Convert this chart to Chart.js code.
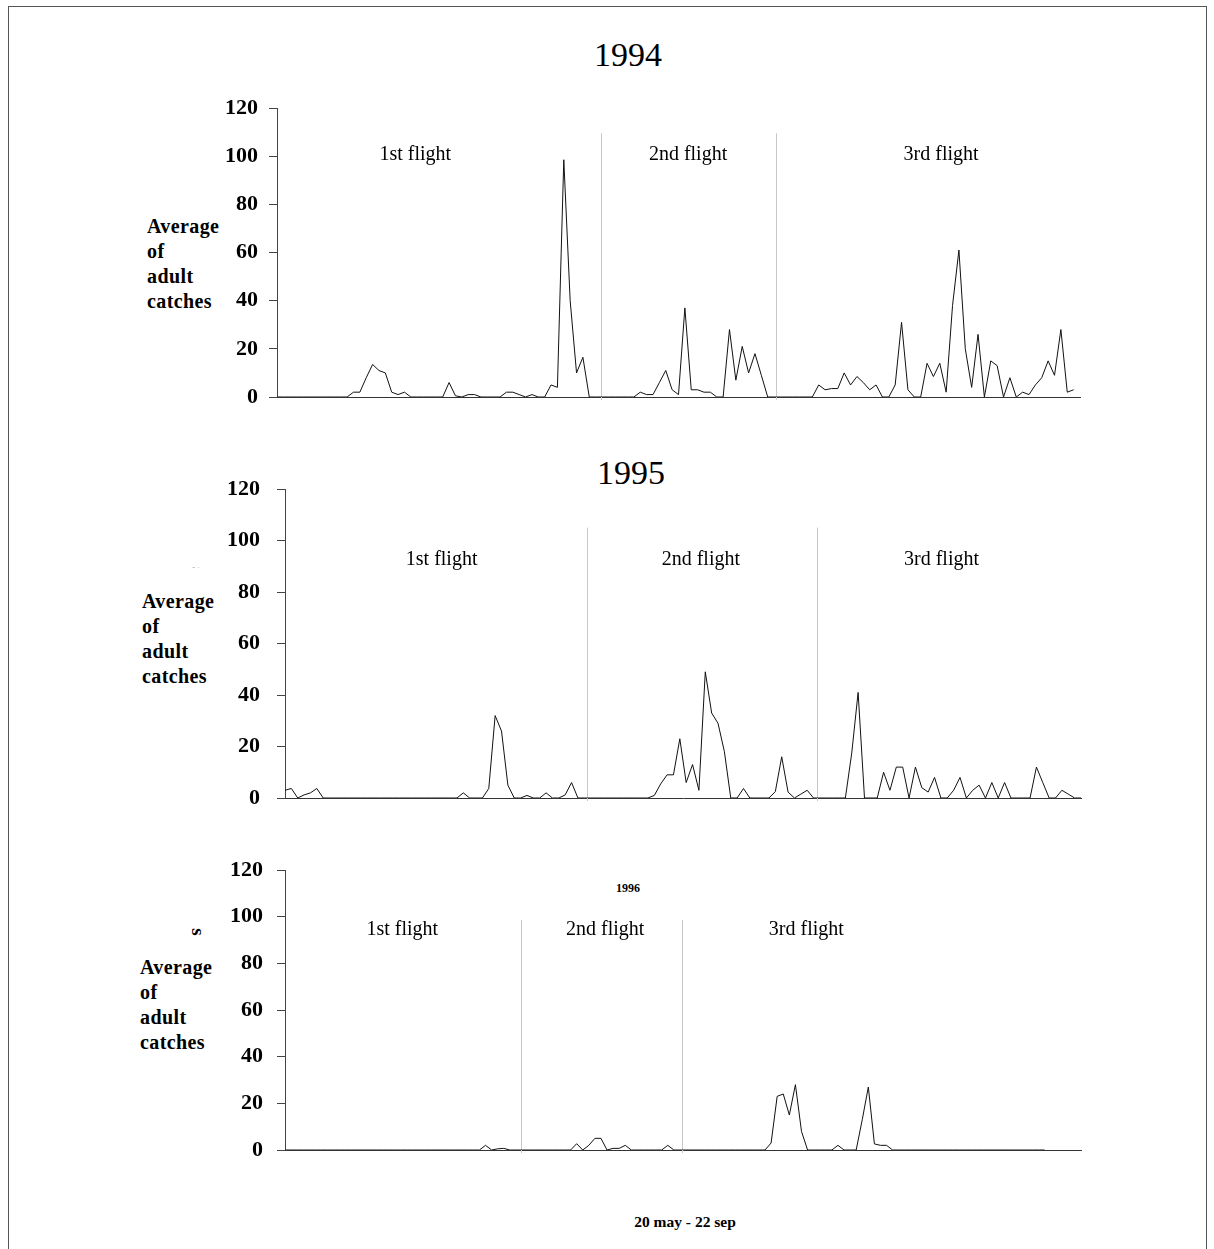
<!DOCTYPE html>
<html lang="en">
<head>
<meta charset="UTF-8" />
<script src="https://cdn.jsdelivr.net/npm/chart.js"></script>
<title>Average of adult catches 1994-1996</title>
<style>
  body { margin: 0; background: #fff; }
  #page { position: relative; width: 1214px; height: 1249px; overflow: hidden; font-family: "Liberation Serif", "Times New Roman", serif; color: #000; }
  #frame { position: absolute; left: 8px; top: 6px; width: 1197px; height: 1270px; border: 1px solid #555; }
  canvas { position: absolute; }
  .t { position: absolute; white-space: nowrap; transform: translate(-50%, -50%); }
  .ylab { position: absolute; font-weight: bold; font-size: 20px; line-height: 25px; letter-spacing: 0.4px; }
  .rs { position: absolute; font-weight: bold; font-size: 19px; transform: rotate(90deg); }
</style>
</head>
<body>
<div id="page">
  <div id="frame"></div>

  <div class="t" style="left:628px; top:55px; font-size:34px;">1994</div>
  <div class="t" style="left:631px; top:473px; font-size:34px;">1995</div>
  <div class="t" style="left:628px; top:888px; font-size:12px; font-weight:bold;">1996</div>

  <div class="ylab" style="left:147px; top:214px;">Average<br>of<br>adult<br>catches</div>
  <div class="ylab" style="left:142px; top:589px;">Average<br>of<br>adult<br>catches</div>
  <div class="ylab" style="left:140px; top:955px;">Average<br>of<br>adult<br>catches</div>

  <div style="position:absolute; left:192px; top:562px; width:16px; height:6px; overflow:hidden;">
    <div class="rs" style="left:2px; top:-2px;">s</div>
  </div>
  <div class="rs" style="left:194px; top:921px;">s</div>

  <div class="t" style="left:685px; top:1222px; font-size:15.5px; font-weight:bold;">20 may - 22 sep</div>

  <canvas id="c1994" width="900" height="320" style="left:200px; top:90px;"></canvas>
  <canvas id="c1995" width="900" height="340" style="left:200px; top:470px;"></canvas>
  <canvas id="c1996" width="900" height="312" style="left:200px; top:850px;"></canvas>
</div>

<script>
  // y axis ticks
  var yTicks = [0, 20, 40, 60, 80, 100, 120];

  // one category per day from 20 may
  var days1994 = Array.from({ length: 127 }, (_, i) => "d" + (i + 1));
  var days1995 = Array.from({ length: 126 }, (_, i) => "d" + (i + 1));
  var days1996 = Array.from({ length: 132 }, (_, i) => "d" + (i + 1));

  var flightNames = ["1st flight", "2nd flight", "3rd flight"];

  var catches1994 = [
    0, 0, 0, 0, 0, 0, 0, 0, 0, 0,
    0, 0, 2, 2, 8, 13.5, 11, 10, 2, 1,
    2, 0, 0, 0, 0, 0, 0, 6, 0.5, 0,
    1, 1, 0, 0, 0, 0, 2, 2, 1, 0,
    1, 0, 0, 5, 4, 98.5, 40, 10, 16.5, 0,
    0, 0, 0, 0, 0, 0, 0, 2, 1, 1,
    6, 11, 3, 1, 37, 3, 3, 2, 2, 0,
    0, 28, 7, 21, 10, 18, 9, 0, 0, 0,
    0, 0, 0, 0, 0, 5, 3, 3.5, 3.5, 10,
    5, 8.5, 6, 3, 5, 0, 0, 5, 31, 3,
    0, 0, 14, 8.5, 14, 2, 38, 61, 20, 4,
    26, 0, 15, 13, 0, 8, 0, 2, 1, 5,
    8, 15, 9, 28, 2, 3
  ];

  var catches1995 = [
    3, 3.7, 0, 1.2, 2, 3.7, 0, 0, 0, 0,
    0, 0, 0, 0, 0, 0, 0, 0, 0, 0,
    0, 0, 0, 0, 0, 0, 0, 0, 2, 0,
    0, 0, 3.7, 32, 26, 5, 0, 0, 1, 0,
    0, 2, 0, 0, 1.2, 6, 0, 0, 0, 0,
    0, 0, 0, 0, 0, 0, 0, 0, 1, 5.5,
    9, 9, 23, 6, 13, 3, 49, 33, 29, 18,
    0, 0, 3.7, 0, 0, 0, 0, 2.5, 16, 2.3,
    0, 1.5, 3, 0, 0, 0, 0, 0, 0, 17.5,
    41, 0, 0, 0, 10, 3, 12, 12, 0, 12,
    4, 2.3, 8, 0, 0, 3, 8, 0, 3, 5,
    0, 6, 0, 6, 0, 0, 0, 0, 12, 6,
    0, 0, 3, 1.5, 0, 0
  ];

  var catches1996 = [
    0, 0, 0, 0, 0, 0, 0, 0, 0, 0,
    0, 0, 0, 0, 0, 0, 0, 0, 0, 0,
    0, 0, 0, 0, 0, 0, 0, 0, 0, 0,
    0, 0, 0, 2, 0, 0.5, 0.7, 0, 0, 0,
    0, 0, 0, 0, 0, 0, 0, 0, 2.7, 0,
    2, 5, 5, 0, 0.7, 0.7, 2, 0, 0, 0,
    0, 0, 0, 2, 0, 0, 0, 0, 0, 0,
    0, 0, 0, 0, 0, 0, 0, 0, 0, 0,
    3, 23, 24, 15, 28, 8, 0, 0, 0, 0,
    0, 2, 0, 0, 0, 13, 27, 2.6, 2, 2,
    0, 0, 0, 0, 0, 0, 0, 0, 0, 0,
    0, 0, 0, 0, 0, 0, 0, 0, 0, 0,
    0, 0, 0, 0, 0, 0
  ];

  // separators between flights and label spots, in category index / axis units
  function flightsPlugin(sepAt, sepTop, labelAt, labelY) {
    return {
      id: "flights",
      beforeDatasetsDraw(chart) {
        var ctx = chart.ctx;
        var x = chart.scales.x, y = chart.scales.y;
        ctx.save();
        ctx.strokeStyle = "#c8c8c8";
        ctx.lineWidth = 1;
        sepAt.forEach(function (s) {
          var px = Math.round(x.getPixelForValue(s)) + 0.5;
          ctx.beginPath();
          ctx.moveTo(px, y.getPixelForValue(sepTop));
          ctx.lineTo(px, y.bottom + 3);
          ctx.stroke();
        });
        ctx.fillStyle = "#000";
        ctx.font = '20px "Liberation Serif"';
        ctx.textAlign = "center";
        ctx.textBaseline = "middle";
        labelAt.forEach(function (a, i) {
          ctx.fillText(flightNames[i], x.getPixelForValue(a), y.getPixelForValue(labelY));
        });
        ctx.restore();
      }
    };
  }

  function drawPanel(id, labels, values, pad, yWidth, tickLen, tickPad, plugin) {
    return new Chart(document.getElementById(id), {
      type: "line",
      data: {
        labels: labels,
        datasets: [{
          data: values,
          borderColor: "#111",
          borderWidth: 1,
          pointRadius: 0,
          tension: 0,
          fill: false
        }]
      },
      options: {
        responsive: false,
        animation: false,
        layout: { padding: pad },
        plugins: { legend: { display: false }, tooltip: { enabled: false } },
        scales: {
          x: {
            offset: false,
            grid: { display: false },
            ticks: { display: false },
            border: { color: "#333" },
            afterFit: function (s) { s.height = 0; }
          },
          y: {
            min: 0,
            max: 120,
            afterBuildTicks: function (s) { s.ticks = yTicks.map(function (v) { return { value: v }; }); },
            ticks: {
              color: "#000",
              padding: tickPad,
              font: { family: "Liberation Serif", weight: "bold", size: 22 }
            },
            grid: { drawOnChartArea: false, tickLength: tickLen, color: "#444" },
            border: { color: "#444" },
            afterFit: function (s) {
              s.width = yWidth;
              s.paddingTop = 0;
              s.paddingBottom = 0;
            }
          }
        }
      },
      plugins: [plugin]
    });
  }

  drawPanel("c1994", days1994, catches1994, { top: 18, right: 20, bottom: 13, left: 0 }, 77, 8, 11,
    flightsPlugin([50.9, 78.3], 109.5, [21.7, 64.5, 104.2], 100.4));
  drawPanel("c1995", days1995, catches1995, { top: 19, right: 19, bottom: 12, left: 0 }, 85, 8, 17,
    flightsPlugin([47.4, 83.5], 105, [24.6, 65.3, 103.1], 92.4));
  drawPanel("c1996", days1996, catches1996, { top: 20, right: 19, bottom: 12, left: 0 }, 85, 8, 14,
    flightsPlugin([38.8, 65.4], 98.6, [19.3, 52.7, 85.8], 94.3));
</script>
</body>
</html>
